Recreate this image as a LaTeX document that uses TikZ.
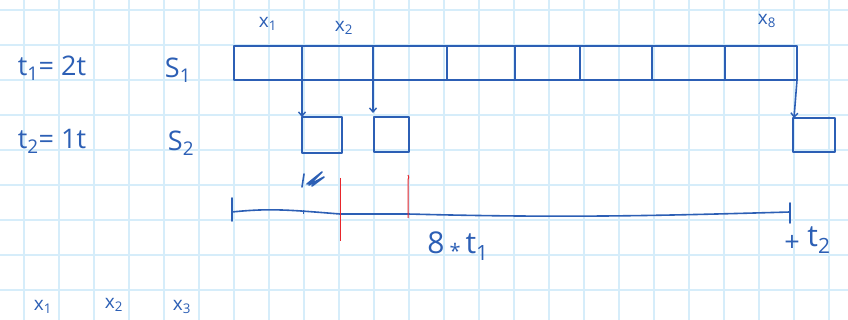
\documentclass[tikz,border=0pt]{standalone}
\usepackage{fontspec}
\setmainfont{Open Sans}
\usetikzlibrary{arrows.meta}
\definecolor{ink}{HTML}{2C5FB5}
\definecolor{gridc}{HTML}{D6EDFA}
\definecolor{redink}{HTML}{E8262B}
\begin{document}
\begin{tikzpicture}[x=1pt,y=-1pt,
  gridline/.style={draw=gridc, line width=1.6pt},
  pen/.style={draw=ink, line width=2.2pt, line cap=round, line join=round},
  box/.style={pen, rectangle, inner sep=0pt, outer sep=0pt},
  thinpen/.style={draw=ink, line width=1.6pt, line cap=round},
  arr/.style={thinpen, -{Straight Barb[length=4pt,width=7pt,line width=1.4pt]}},
  redline/.style={draw=redink, line width=1pt},
  big/.style={text=ink, inner sep=0pt, font=\fontsize{27}{27}\selectfont},
  huge/.style={text=ink, inner sep=0pt, font=\fontsize{30}{30}\selectfont},
  small/.style={text=ink, inner sep=0pt, font=\fontsize{19}{19}\selectfont}]
\useasboundingbox (0,0) rectangle (848,320);
\fill[white] (0,0) rectangle (848,320);
% grid
\foreach \x in {24,59,...,829} \draw[gridline] (\x,0) -- (\x,320);
\foreach \y in {10,45,...,290} \draw[gridline] (0,\y) -- (848,\y);
% S1 boxes
\node[box, minimum width=68pt, minimum height=34pt] (b1) at (268,63) {};
\node[box, minimum width=71pt, minimum height=34pt] (b2) at (337.5,63) {};
\node[box, minimum width=74pt, minimum height=34pt] (b3) at (410,63) {};
\node[box, minimum width=68pt, minimum height=34pt] (b4) at (481,63) {};
\node[box, minimum width=65pt, minimum height=34pt] (b5) at (547.5,63) {};
\node[box, minimum width=72pt, minimum height=34pt] (b6) at (616,63) {};
\node[box, minimum width=73pt, minimum height=34pt] (b7) at (688.5,63) {};
\node[box, minimum width=72pt, minimum height=34pt] (b8) at (761,63) {};
% S2 boxes
\node[box, minimum width=40pt, minimum height=36pt] (c1) at (322,135) {};
\node[box, minimum width=35pt, minimum height=35pt] (c2) at (391.5,134.5) {};
\node[box, minimum width=42pt, minimum height=34pt] (c3) at (814,135) {};
% arrows
\draw[arr] (b1.south east) -- (c1.north west);
\draw[arr] (b2.south east) -- ([xshift=-1pt,yshift=4pt]c2.north west);
\draw[arr] (b8.south east) -- ([xshift=1pt]c3.north west);
% labels above boxes
\node[small] (lx1) at (268,24) {x\textsubscript{1}};
\node[small] (lx2) at (344,28) {x\textsubscript{2}};
\node[small] (lx8) at (767,21) {x\textsubscript{8}};
% left labels
\node[big] (t1) at (52,68) {t\textsubscript{1}= 2t};
\node[big] (t2) at (52,141) {t\textsubscript{2}= 1t};
\node[big] (s1) at (178,70) {S\textsubscript{1}};
\node[big] (s2) at (181,143) {S\textsubscript{2}};
% timeline
\coordinate (tl) at (232,212);
\coordinate (tr) at (790,212);
\draw[thinpen] (tl) .. controls (270,208) and (290,210) .. (340,214) -- (408,214) .. controls (560,218) and (650,216) .. (tr);
\draw[thinpen] ([yshift=-9pt]tl) -- ([yshift=14pt]tl);
\draw[thinpen] ([yshift=-11pt]tr) -- ([yshift=9pt]tr);
\draw[ink, line width=0.8pt] (303,210) -- (303,214);
% red marks
\draw[redline] (340,178) -- (340,241);
\draw[redline] (408,175) .. controls (409,177) .. (408,180) -- (408,218);
% scribble
\draw[thinpen] (304,174) -- (302,187);
\draw[thinpen, line join=round] (307,184) -- (322,172) -- (309,185) -- (324,177) -- (312,186) -- (319,180);
% bottom labels
\node[huge] (m8) at (458,246) {8\,\raisebox{-5pt}{\fontsize{20}{20}\selectfont *}\,t\textsubscript{1}};
\node[big] (plus) at (792,243) {+};
\node[huge] (tt2) at (819,240) {t\textsubscript{2}};
\node[small] (bx1) at (43,307) {x\textsubscript{1}};
\node[small] (bx2) at (114,305) {x\textsubscript{2}};
\node[small] (bx3) at (182,307) {x\textsubscript{3}};
\end{tikzpicture}
\end{document}
